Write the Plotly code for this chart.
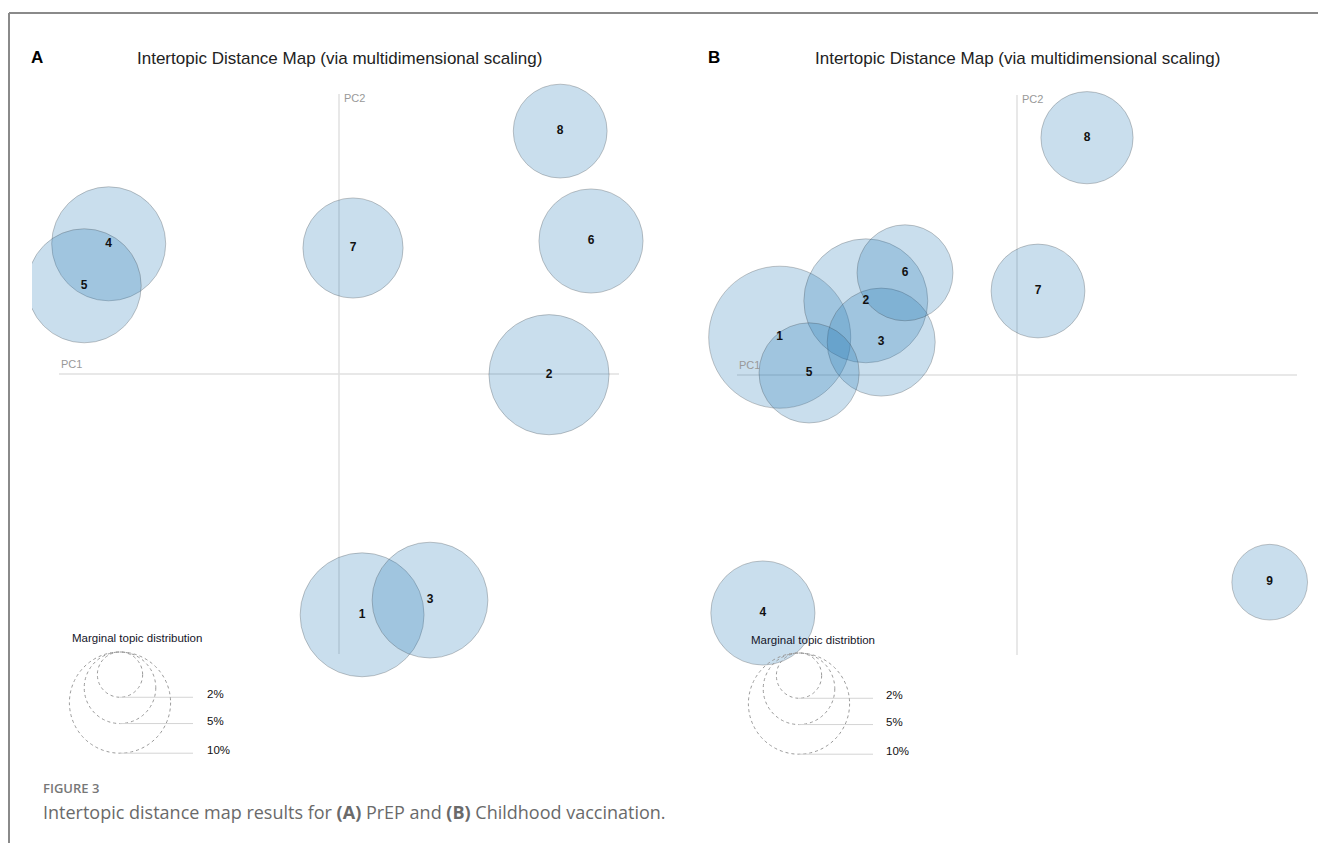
import math
import plotly.graph_objects as go

W, H = 1320, 843

# ---- data -------------------------------------------------------------
# Panel A: PrEP topics (PC1, PC2 coordinates and marginal topic share, %)
topics_a = [1, 2, 3, 4, 5, 6, 7, 8]
pc1_a = [0.033, 0.300, 0.130, -0.329, -0.364, 0.360, 0.020, 0.316]
pc2_a = [-0.344, -0.001, -0.323, 0.186, 0.126, 0.190, 0.180, 0.347]
share_a = [15.0, 14.1, 13.1, 12.7, 12.7, 10.6, 9.8, 8.6]

# Panel B: Childhood vaccination topics
topics_b = [1, 2, 3, 4, 5, 6, 7, 8, 9]
pc1_b = [-0.339, -0.216, -0.194, -0.363, -0.297, -0.160, 0.030, 0.100, 0.361]
pc2_b = [0.054, 0.106, 0.047, -0.340, 0.003, 0.146, 0.120, 0.339, -0.296]
share_b = [19.7, 15.0, 11.4, 10.6, 9.8, 9.0, 8.6, 8.3, 5.6]

# Size legend (marginal topic distribution, %)
legend_share = [2, 5, 10]
legend_labels = ["2%", "5%", "10%"]

AXIS_EXTENT = 0.4          # PC1 / PC2 guide lines run from -0.4 to 0.4
PX_PER_UNIT = 700.0        # plot scale, pixels per PC unit
K_RADIUS = 16.0            # radius (px) = K * sqrt(share %)

FILL = "rgba(31,119,180,0.24)"
EDGE = "rgba(60,60,60,0.28)"
GUIDE = "#e0e0e0"
SANS = "Liberation Sans, Arial"


def px_x(p):
    return p / W


def px_y(p):
    return 1 - p / H


# panel frames in pixels
panels = [
    dict(left=32, right=660, top=70, bottom=780, ox=339, oy=374,
         ids=topics_a, x=pc1_a, y=pc2_a, share=share_a, tag="A", tag_x=37,
         legend_title="Marginal topic distribution",
         leg_cx=120, leg_top=652, leg_line_end=193, leg_text_x=205, leg_title_x=70, leg_title_y=638),
    dict(left=700, right=1320, top=70, bottom=780, ox=1017, oy=375,
         ids=topics_b, x=pc1_b, y=pc2_b, share=share_b, tag="B", tag_x=714,
         legend_title="Marginal topic distribtion",
         leg_cx=799, leg_top=653, leg_line_end=873, leg_text_x=884, leg_title_x=749, leg_title_y=640),
]

fig = go.Figure()
shapes = []
annotations = []

for i, p in enumerate(panels, start=1):
    xa = "x" if i == 1 else f"x{i}"
    ya = "y" if i == 1 else f"y{i}"
    xr = [(p["left"] - p["ox"]) / PX_PER_UNIT, (p["right"] - p["ox"]) / PX_PER_UNIT]
    yr = [(p["oy"] - p["bottom"]) / PX_PER_UNIT, (p["oy"] - p["top"]) / PX_PER_UNIT]
    ax_common = dict(showgrid=False, zeroline=False, showticklabels=False,
                     ticks="", showline=False, fixedrange=True)
    fig.update_layout(**{
        ("xaxis" if i == 1 else f"xaxis{i}"): dict(
            range=xr, domain=[px_x(p["left"]), px_x(p["right"])],
            anchor=ya, **ax_common),
        ("yaxis" if i == 1 else f"yaxis{i}"): dict(
            range=yr, domain=[px_y(p["bottom"]), px_y(p["top"])],
            anchor=xa, **ax_common),
    })

    # PC1 / PC2 guide lines
    shapes.append(dict(type="line", xref=xa, yref=ya, x0=-AXIS_EXTENT, x1=AXIS_EXTENT,
                       y0=0, y1=0, line=dict(color=GUIDE, width=1.5), layer="below"))
    shapes.append(dict(type="line", xref=xa, yref=ya, x0=0, x1=0,
                       y0=-AXIS_EXTENT, y1=AXIS_EXTENT,
                       line=dict(color=GUIDE, width=1.5), layer="below"))
    annotations.append(dict(text="PC1", xref=xa, yref=ya, x=-AXIS_EXTENT, y=0,
                            xanchor="left", yanchor="bottom", yshift=2, showarrow=False,
                            font=dict(family=SANS, size=11, color="#999999")))
    annotations.append(dict(text="PC2", xref=xa, yref=ya, x=0, y=AXIS_EXTENT,
                            xanchor="left", yanchor="top", xshift=3, yshift=4, showarrow=False,
                            font=dict(family=SANS, size=11, color="#999999")))

    # topic bubbles, diameter from marginal share
    sizes = [2 * K_RADIUS * math.sqrt(s) for s in p["share"]]
    fig.add_trace(go.Scatter(
        x=p["x"], y=p["y"], xaxis=xa, yaxis=ya, mode="markers+text",
        marker=dict(size=sizes, sizemode="diameter", color=FILL, opacity=1,
                    line=dict(color=EDGE, width=1)),
        text=[f"<b>{n}</b>" for n in p["ids"]], textposition="middle center",
        textfont=dict(family=SANS, size=12, color="#111111"),
        hoverinfo="skip", showlegend=False, cliponaxis=True,
    ))

    # panel letter and title
    annotations.append(dict(text=f"<b>{p['tag']}</b>", xref="paper", yref="paper",
                            x=px_x(p["tag_x"]), y=px_y(57),
                            xanchor="center", yanchor="middle", showarrow=False,
                            font=dict(family=SANS, size=17, color="#000")))
    annotations.append(dict(text="Intertopic Distance Map (via multidimensional scaling)",
                            xref="paper", yref="paper", x=px_x(p["ox"]), y=px_y(58),
                            xanchor="center", yanchor="middle", showarrow=False,
                            font=dict(family=SANS, size=17, color="#222")))

    # size legend: nested dashed circles sharing the same top point
    annotations.append(dict(text=p["legend_title"], xref="paper", yref="paper",
                            x=px_x(p["leg_title_x"]), y=px_y(p["leg_title_y"]),
                            xanchor="left", yanchor="middle", showarrow=False,
                            font=dict(family=SANS, size=11.5, color="#141428")))
    for share, lab in zip(legend_share, legend_labels):
        r = K_RADIUS * math.sqrt(share)
        cx, top = p["leg_cx"], p["leg_top"]
        bottom = top + 2 * r
        shapes.append(dict(type="circle", xref="paper", yref="paper",
                           x0=px_x(cx - r), x1=px_x(cx + r), y0=px_y(top), y1=px_y(bottom),
                           line=dict(color="#9a9a9a", width=1, dash="dot")))
        shapes.append(dict(type="line", xref="paper", yref="paper",
                           x0=px_x(cx), x1=px_x(p["leg_line_end"]),
                           y0=px_y(bottom), y1=px_y(bottom),
                           line=dict(color="#d4d4d4", width=1)))
        annotations.append(dict(text=lab, xref="paper", yref="paper",
                                x=px_x(p["leg_text_x"]), y=px_y(bottom - 3),
                                xanchor="left", yanchor="middle", showarrow=False,
                                font=dict(family=SANS, size=11.5, color="#111")))

# figure frame
shapes.append(dict(type="line", xref="paper", yref="paper", x0=px_x(9), x1=px_x(1318),
                   y0=px_y(13), y1=px_y(13), line=dict(color="#8a8a8a", width=2)))
shapes.append(dict(type="line", xref="paper", yref="paper", x0=px_x(9), x1=px_x(9),
                   y0=px_y(13), y1=px_y(843), line=dict(color="#8a8a8a", width=2)))

# caption
annotations.append(dict(text="FIGURE 3", xref="paper", yref="paper",
                        x=px_x(41), y=px_y(788), xanchor="left", yanchor="middle",
                        showarrow=False,
                        font=dict(family="Open Sans", size=13, color="#777777", weight=600)))
annotations.append(dict(
    text="Intertopic distance map results for <b>(A)</b> PrEP and <b>(B)</b> Childhood vaccination.",
    xref="paper", yref="paper", x=px_x(41), y=px_y(812), xanchor="left", yanchor="middle",
    showarrow=False, font=dict(family="Open Sans", size=18, color="#6a6a6a")))

fig.update_layout(width=W, height=H, margin=dict(l=0, r=0, t=0, b=0),
                  paper_bgcolor="white", plot_bgcolor="rgba(0,0,0,0)",
                  shapes=shapes, annotations=annotations, showlegend=False)

fig.write_html("out.html", config={"displayModeBar": False})
